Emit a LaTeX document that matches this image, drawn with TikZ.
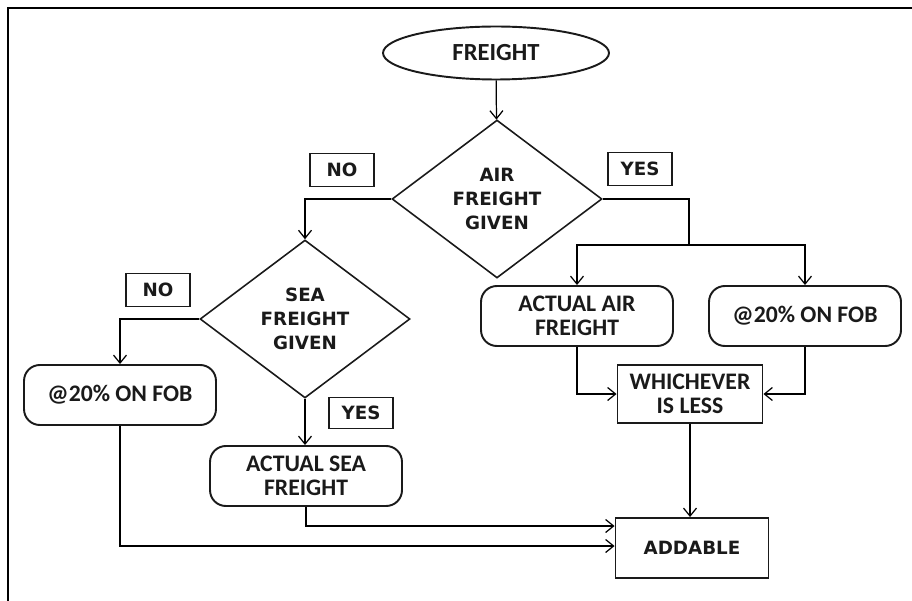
\documentclass[tikz,border=0pt]{standalone}
\usepackage{fontspec}
\setmainfont{Carlito}
\newfontfamily\wideface{DejaVu Sans}
\usepackage{tikz}
\usetikzlibrary{shapes.geometric,arrows.meta}
\definecolor{inkc}{HTML}{1A1A1A}

\begin{document}
\begin{tikzpicture}[x=0.02cm,y=-0.02cm,
    every node/.style={inkc,text=inkc,align=center,inner sep=1pt},
    boxtxt/.style={font=\fontsize{13.5}{14}\selectfont\bfseries},
    widetxt/.style={font=\wideface\fontsize{10.4}{13.6}\selectfont\bfseries},
    roundbox/.style={boxtxt,draw,line width=1.1pt,rounded corners=9pt,minimum width=3.84cm,minimum height=1.2cm},
    sqbox/.style={draw,line width=1.1pt},
    tagbox/.style={widetxt,draw,line width=1.1pt,minimum width=1.28cm,minimum height=0.66cm},
    askbox/.style={widetxt,draw,line width=0.9pt,diamond,minimum width=4.2cm,minimum height=3.16cm},
    link/.style={line width=0.7pt,-{Straight Barb[length=1.6mm,width=2.6mm]}}]
  \useasboundingbox (0,0) rectangle (912,601);
  \draw[line width=0.8pt] (8,601) -- (8,8) -- (912,8); % page frame, open at right and bottom

  \node[boxtxt,draw,line width=1.1pt,ellipse,minimum width=4.52cm,minimum height=1.06cm,
        font=\fontsize{14}{16}\selectfont\bfseries] (freight) at (496,53) {FREIGHT};
  \node[askbox] (air) at (497,199) {AIR\\FREIGHT\\GIVEN};
  \node[askbox] (sea) at (305,319) {SEA\\FREIGHT\\GIVEN};

  \node[tagbox] (noair) at (342,170) {NO};
  \node[tagbox] (yesair) at (640,169) {YES};
  \node[tagbox] (nosea) at (158,290) {NO};
  \node[tagbox,minimum height=0.62cm] (yessea) at (361,413) {YES};

  \node[roundbox] (actair) at (577,316) {ACTUAL AIR\\FREIGHT};
  \node[roundbox] (fobair) at (805,316) {@20\% ON FOB};
  \node[roundbox] (fobsea) at (120,395) {@20\% ON FOB};
  \node[roundbox] (actsea) at (306,476) {ACTUAL SEA\\FREIGHT};
  \node[boxtxt,sqbox,minimum width=2.9cm,minimum height=1.16cm] (less) at (690,394) {WHICHEVER\\IS LESS};
  \node[widetxt,sqbox,minimum width=3.06cm,minimum height=1.2cm] (addable) at (692,548) {ADDABLE};
  \coordinate (split) at (689,245);

  \draw[link] (freight) -- (air);
  \draw[link] (air.west) -| (sea.north);
  \draw[line width=0.7pt] (air.east) -| (split);
  \draw[link] (split) -| (actair.north);
  \draw[link] (split) -| (fobair.north);
  \draw[link] (actair.south) |- (less.west);
  \draw[link] (fobair.south) |- (less.east);
  \draw[link] (less.south) -- (less.south |- addable.north);
  \draw[link] (sea.west) -| (fobsea.north);
  \draw[link] (sea.south) -- (sea.south |- actsea.north);
  \draw[link] (actsea.south) |- ([yshift=0.44cm]addable.west);
  \draw[link] (fobsea.south) |- ([yshift=0.04cm]addable.west);
\end{tikzpicture}
\end{document}
